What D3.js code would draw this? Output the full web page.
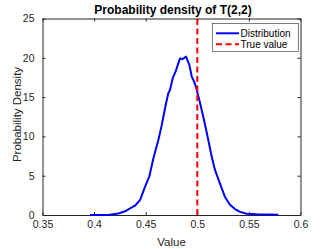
<!DOCTYPE html>
<html><head><meta charset="utf-8">
<script src="https://cdn.jsdelivr.net/npm/d3@7"></script>
<style>body{margin:0;background:#fff}svg{display:block}text{font-family:"Liberation Sans",Arial,sans-serif}</style>
</head><body>
<script>
const xValues = [0.396,0.405,0.415,0.4235,0.43,0.4348,0.4396,0.4445,0.4494,0.4535,0.4574,0.4622,0.4655,0.4671,0.4697,0.4719,0.4735,0.4762,0.4794,0.4816,0.4832,0.4859,0.4891,0.4923,0.4946,0.4968,0.4987,0.502,0.5058,0.5091,0.5107,0.514,0.5172,0.522,0.5268,0.5317,0.5365,0.5414,0.5479,0.5576,0.5785];
const densityValues = [0,0.01,0.04,0.2,0.47,0.85,1.18,1.9,3.6,4.9,7.2,9.5,11.4,12.5,14.2,15.5,15.9,17.4,18.4,19.3,19.9,19.85,20.15,19.1,17.6,17.0,16.3,14.6,12.5,10.5,9.5,7.4,5.7,4.0,2.3,1.3,0.76,0.4,0.17,0.08,0.02];
const trueValue = 0.5;
const xTicks = [0.35,0.4,0.45,0.5,0.55,0.6];
const yTicks = [0,5,10,15,20,25];
const legendLabels = ["Distribution","True value"];
const titleText = "Probability density of T(2,2)";

const W=332,H=249;
const m={l:42.5,r:31.5,t:18.5,b:34};
const svg=d3.select("body").append("svg").attr("width",W).attr("height",H);
const x=d3.scaleLinear().domain([0.35,0.6]).range([m.l,W-m.r]);
const y=d3.scaleLinear().domain([0,25]).range([H-m.b,m.t]);
const ax="#262626";
const fmt=d=>String(d);

// axes with inward ticks, mirrored
svg.append("g").attr("transform",`translate(0,${H-m.b})`)
  .call(d3.axisBottom(x).tickValues(xTicks).tickFormat(fmt).tickSizeInner(-3).tickSizeOuter(0).tickPadding(6))
  .call(g=>{g.select(".domain").attr("stroke",ax);g.selectAll("line").attr("stroke",ax);g.selectAll("text").attr("fill",ax).attr("font-size",10.5);});
svg.append("g").attr("transform",`translate(0,${m.t})`)
  .call(d3.axisTop(x).tickValues(xTicks).tickFormat("").tickSizeInner(-3).tickSizeOuter(0))
  .call(g=>{g.select(".domain").attr("stroke",ax);g.selectAll("line").attr("stroke",ax);});
svg.append("g").attr("transform",`translate(${m.l},0)`)
  .call(d3.axisLeft(y).tickValues(yTicks).tickFormat(fmt).tickSizeInner(-3).tickSizeOuter(0).tickPadding(8))
  .call(g=>{g.select(".domain").attr("stroke",ax);g.selectAll("line").attr("stroke",ax);g.selectAll("text").attr("fill",ax).attr("font-size",10.5);});
svg.append("g").attr("transform",`translate(${W-m.r},0)`)
  .call(d3.axisRight(y).tickValues(yTicks).tickFormat("").tickSizeInner(-3).tickSizeOuter(0))
  .call(g=>{g.select(".domain").attr("stroke",ax);g.selectAll("line").attr("stroke",ax);});

// curve
const pts=xValues.map((v,i)=>[v,densityValues[i]]);
svg.append("path").datum(pts).attr("fill","none").attr("stroke","#0000ff").attr("stroke-width",2)
  .attr("stroke-linejoin","round")
  .attr("d",d3.line().x(d=>x(d[0])).y(d=>y(d[1])));

// true value
svg.append("line").attr("x1",x(trueValue)).attr("x2",x(trueValue)).attr("y1",y(0)).attr("y2",y(25))
  .attr("stroke","#ff0000").attr("stroke-width",2).attr("stroke-dasharray","6,3.5");

// title & labels
svg.append("text").attr("x",173).attr("y",14).attr("text-anchor","middle")
  .attr("font-size",12).attr("font-weight","bold").attr("fill","#000").text(titleText);
svg.append("text").attr("x",(m.l+W-m.r)/2).attr("y",246).attr("text-anchor","middle")
  .attr("font-size",11.5).attr("fill",ax).text("Value");
svg.append("text").attr("transform",`translate(21,114.5) rotate(-90)`).attr("text-anchor","middle")
  .attr("font-size",11.5).attr("fill",ax).text("Probability Density");

// legend
const lg=svg.append("g");
lg.append("rect").attr("x",212.5).attr("y",23.5).attr("width",86).attr("height",28)
  .attr("fill","#fff").attr("stroke","#262626").attr("stroke-width",0.6);
const colors=["#0000ff","#ff0000"],dashes=[null,"6,3.5"];
legendLabels.forEach((t,i)=>{
  const yy=33.3+i*11;
  lg.append("line").attr("x1",216).attr("x2",239).attr("y1",yy).attr("y2",yy)
    .attr("stroke",colors[i]).attr("stroke-width",2).attr("stroke-dasharray",dashes[i]);
  lg.append("text").attr("x",240.5).attr("y",yy+3.5).attr("font-size",10).attr("fill","#000").text(t);
});
</script>
</body></html>
